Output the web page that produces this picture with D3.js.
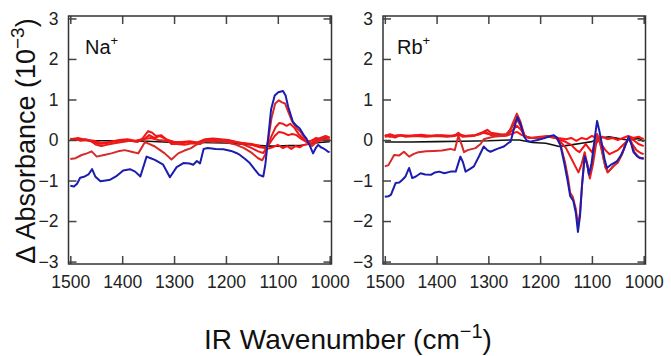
<!DOCTYPE html>
<html><head><meta charset="utf-8">
<script src="https://cdn.jsdelivr.net/npm/d3@7/dist/d3.min.js"></script>
<style>html,body{margin:0;padding:0;background:#fff;}svg{display:block;font-family:"Liberation Sans",Arial,sans-serif;}</style>
</head><body>
<script>
// ---------- data ----------
const xTicks = [1500, 1400, 1300, 1200, 1100, 1000];
const yTicks = [3, 2, 1, 0, -1, -2, -3];
const panelLabels = ["Na", "Rb"];
const xTitle = "IR Wavenumber (cm";
const yTitle = "\u0394 Absorbance (10";

const naBlack = [[1500,0],[1450,-0.02],[1400,-0.02],[1350,-0.03],[1300,-0.06],[1250,-0.06],[1200,-0.07],[1180,-0.09],[1160,-0.11],[1140,-0.13],[1120,-0.15],[1100,-0.15],[1080,-0.14],[1060,-0.14],[1040,-0.1],[1020,-0.06],[1000,-0.04]];
const naBlue = [[1500,-1.13],[1493,-1.15],[1487,-1.08],[1481,-0.93],[1472,-0.9],[1465,-0.85],[1458,-0.72],[1452,-0.9],[1442,-1.02],[1432,-1.0],[1423,-0.98],[1412,-0.9],[1398,-0.75],[1385,-0.72],[1375,-0.78],[1365,-0.9],[1353,-0.41],[1345,-0.45],[1337,-0.49],[1321,-0.61],[1308,-0.92],[1295,-0.67],[1282,-0.57],[1270,-0.58],[1263,-0.61],[1256,-0.52],[1250,-0.58],[1243,-0.22],[1235,-0.2],[1220,-0.22],[1205,-0.23],[1190,-0.27],[1180,-0.32],[1173,-0.37],[1163,-0.47],[1154,-0.57],[1145,-0.72],[1136,-0.86],[1128,-0.9],[1124,-0.6],[1119,0.0],[1113,0.75],[1106,1.1],[1099,1.18],[1090,1.21],[1085,1.1],[1080,0.82],[1071,0.45],[1064,0.35],[1058,0.29],[1050,0.12],[1045,0.04],[1038,-0.15],[1032,-0.33],[1026,-0.18],[1022,-0.12],[1017,-0.18],[1013,-0.2],[1008,-0.24],[1003,-0.29],[1000,-0.3]];
const naRed1 = [[1500,-0.47],[1490,-0.45],[1478,-0.37],[1468,-0.33],[1459,-0.28],[1449,-0.41],[1435,-0.37],[1421,-0.33],[1408,-0.28],[1395,-0.25],[1382,-0.29],[1369,-0.33],[1356,-0.05],[1347,-0.1],[1337,-0.16],[1327,-0.25],[1318,-0.33],[1305,-0.48],[1292,-0.33],[1280,-0.26],[1267,-0.2],[1258,-0.12],[1250,-0.08],[1240,-0.03],[1225,-0.05],[1210,-0.04],[1195,-0.07],[1180,-0.12],[1165,-0.2],[1150,-0.32],[1138,-0.45],[1130,-0.5],[1124,-0.35],[1118,0.05],[1112,0.55],[1105,0.9],[1098,0.98],[1092,0.93],[1086,0.9],[1080,0.7],[1072,0.45],[1064,0.3],[1056,0.2],[1048,0.05],[1040,-0.05],[1034,-0.15],[1028,-0.08],[1020,-0.02],[1010,0.0],[1000,-0.02]];
const naRed2 = [[1500,0.0],[1490,0.02],[1480,-0.02],[1470,0.0],[1460,-0.03],[1450,-0.12],[1440,-0.15],[1430,-0.12],[1415,-0.08],[1400,-0.05],[1385,-0.02],[1370,-0.05],[1360,0.05],[1350,0.22],[1342,0.18],[1335,0.1],[1325,0.12],[1318,0.05],[1305,-0.1],[1295,-0.1],[1280,-0.12],[1265,-0.08],[1250,-0.1],[1240,-0.02],[1225,0.02],[1210,0.0],[1195,-0.02],[1180,-0.05],[1165,-0.12],[1150,-0.2],[1138,-0.28],[1128,-0.32],[1120,-0.15],[1112,0.1],[1104,0.32],[1097,0.42],[1090,0.4],[1083,0.35],[1076,0.4],[1068,0.3],[1060,0.15],[1052,0.05],[1044,-0.05],[1036,-0.1],[1028,0.0],[1018,0.05],[1008,0.1],[1000,0.05]];
const naRed3 = [[1500,0.03],[1485,0.0],[1470,0.02],[1455,-0.05],[1445,-0.1],[1430,-0.08],[1410,-0.02],[1390,0.0],[1375,-0.03],[1360,0.0],[1348,0.12],[1338,0.05],[1328,0.1],[1316,0.02],[1300,-0.05],[1285,-0.05],[1270,-0.03],[1255,-0.06],[1240,0.02],[1225,0.04],[1210,0.02],[1195,0.0],[1180,-0.05],[1165,-0.08],[1150,-0.12],[1135,-0.18],[1122,-0.2],[1114,-0.05],[1106,0.1],[1098,0.2],[1090,0.18],[1080,0.12],[1072,0.15],[1064,0.12],[1054,0.02],[1044,-0.05],[1036,-0.02],[1026,0.05],[1015,0.0],[1005,0.08],[1000,0.05]];
const naRed4 = [[1500,0.02],[1485,0.05],[1470,0.0],[1455,-0.02],[1440,-0.08],[1425,-0.05],[1405,0.0],[1390,0.02],[1375,-0.02],[1360,0.02],[1345,0.05],[1330,0.0],[1315,-0.02],[1300,-0.05],[1285,-0.08],[1270,-0.05],[1255,-0.08],[1240,0.0],[1225,0.0],[1210,-0.02],[1195,-0.05],[1180,-0.06],[1165,-0.08],[1150,-0.1],[1135,-0.15],[1120,-0.22],[1110,-0.18],[1100,-0.12],[1090,-0.2],[1082,-0.15],[1074,-0.22],[1066,-0.15],[1058,-0.18],[1050,-0.12],[1040,-0.1],[1030,-0.05],[1020,0.0],[1010,0.05],[1000,0.0]];

const rbBlack = [[1500,-0.05],[1450,-0.05],[1400,-0.04],[1350,-0.03],[1300,-0.02],[1260,0.0],[1240,0.0],[1215,-0.06],[1189,-0.08],[1163,-0.16],[1140,-0.12],[1120,-0.08],[1100,-0.04],[1085,0.05],[1067,0.08],[1050,0.04],[1030,0.0],[1009,0.04],[1000,-0.04]];
const rbBlue = [[1500,-1.4],[1493,-1.39],[1488,-1.35],[1479,-1.06],[1472,-1.05],[1466,-0.98],[1460,-0.9],[1453,-0.69],[1447,-0.94],[1440,-0.9],[1431,-0.82],[1422,-0.85],[1411,-0.86],[1403,-0.8],[1395,-0.78],[1385,-0.82],[1373,-0.78],[1363,-0.78],[1354,-0.41],[1349,-0.55],[1344,-0.78],[1336,-0.72],[1328,-0.65],[1318,-0.4],[1309,-0.16],[1302,-0.25],[1296,-0.29],[1283,-0.22],[1270,-0.16],[1262,-0.08],[1257,-0.04],[1250,0.3],[1244,0.57],[1238,0.4],[1231,0.08],[1225,-0.02],[1219,-0.04],[1205,0.0],[1193,0.04],[1180,0.1],[1174,0.12],[1167,0.05],[1161,-0.12],[1153,-0.6],[1147,-1.0],[1142,-1.38],[1136,-1.5],[1131,-1.8],[1127,-2.27],[1123,-1.88],[1119,-1.1],[1114,-0.4],[1109,-0.6],[1106,-0.85],[1101,-0.6],[1095,0.0],[1090,0.47],[1086,0.25],[1081,-0.08],[1076,-0.45],[1071,-0.69],[1062,-0.6],[1052,-0.53],[1045,-0.4],[1039,-0.25],[1033,-0.05],[1029,0.08],[1024,-0.1],[1020,-0.29],[1013,-0.4],[1007,-0.45],[1000,-0.45]];
const rbRed1 = [[1500,-0.65],[1493,-0.62],[1482,-0.37],[1472,-0.38],[1463,-0.29],[1453,-0.41],[1445,-0.35],[1435,-0.3],[1420,-0.28],[1405,-0.27],[1390,-0.26],[1373,-0.22],[1365,-0.25],[1358,0.1],[1352,-0.1],[1347,-0.3],[1340,-0.25],[1325,-0.2],[1315,-0.1],[1309,0.02],[1300,0.05],[1290,0.08],[1275,0.1],[1262,0.12],[1255,0.35],[1245,0.65],[1238,0.45],[1230,0.1],[1220,0.05],[1205,0.05],[1190,0.08],[1178,0.1],[1168,0.05],[1160,-0.15],[1152,-0.55],[1146,-0.95],[1142,-1.3],[1137,-1.4],[1131,-1.7],[1127,-2.1],[1123,-1.8],[1119,-1.1],[1114,-0.4],[1109,-0.62],[1105,-0.85],[1100,-0.6],[1094,-0.1],[1090,0.15],[1085,0.0],[1080,-0.3],[1074,-0.68],[1068,-0.78],[1060,-0.66],[1050,-0.56],[1042,-0.36],[1035,-0.1],[1029,0.05],[1023,-0.1],[1018,-0.3],[1010,-0.42],[1000,-0.47]];
const rbRed2 = [[1500,0.08],[1490,0.1],[1480,0.06],[1470,0.12],[1460,0.08],[1440,0.1],[1420,0.08],[1400,0.1],[1380,0.08],[1365,0.1],[1358,0.18],[1350,0.08],[1330,0.1],[1315,0.15],[1305,0.2],[1295,0.12],[1280,0.12],[1265,0.15],[1255,0.3],[1245,0.52],[1238,0.35],[1230,0.1],[1220,0.05],[1200,0.06],[1185,0.08],[1170,0.05],[1160,-0.05],[1150,-0.2],[1140,-0.45],[1132,-0.65],[1126,-0.8],[1120,-0.6],[1114,-0.3],[1109,-0.6],[1104,-0.95],[1098,-0.6],[1092,-0.1],[1087,0.05],[1082,-0.2],[1076,-0.55],[1070,-0.8],[1062,-0.7],[1052,-0.55],[1042,-0.35],[1035,-0.1],[1028,0.05],[1022,-0.1],[1014,-0.25],[1006,-0.32],[1000,-0.35]];
const rbRed3 = [[1500,0.12],[1490,0.08],[1475,0.12],[1460,0.1],[1440,0.12],[1420,0.1],[1400,0.12],[1380,0.1],[1360,0.12],[1345,0.1],[1325,0.12],[1310,0.2],[1302,0.25],[1295,0.18],[1280,0.15],[1265,0.12],[1255,0.22],[1245,0.35],[1237,0.25],[1228,0.08],[1215,0.05],[1200,0.08],[1185,0.1],[1170,0.05],[1160,0.0],[1150,-0.05],[1140,-0.12],[1130,-0.25],[1124,-0.3],[1118,-0.2],[1112,-0.1],[1106,-0.2],[1100,-0.3],[1094,-0.1],[1088,0.0],[1082,-0.1],[1074,-0.25],[1066,-0.35],[1058,-0.3],[1050,-0.25],[1042,-0.15],[1034,-0.05],[1028,0.05],[1020,0.0],[1010,-0.1],[1000,-0.15]];
const rbRed4 = [[1500,0.1],[1490,0.14],[1480,0.1],[1465,0.12],[1450,0.1],[1430,0.13],[1410,0.1],[1390,0.12],[1370,0.1],[1358,0.15],[1345,0.1],[1325,0.12],[1310,0.18],[1300,0.15],[1285,0.12],[1270,0.1],[1255,0.15],[1245,0.2],[1235,0.12],[1220,0.05],[1205,0.06],[1190,0.08],[1175,0.1],[1165,0.05],[1150,0.02],[1140,0.05],[1130,-0.02],[1120,0.05],[1110,0.02],[1100,0.1],[1090,0.05],[1080,0.08],[1070,0.02],[1060,0.05],[1050,0.0],[1040,0.05],[1030,0.1],[1020,0.05],[1010,0.08],[1000,0.02]];

const seriesColors = ["#111111", "#ff1414", "#f41212", "#e81c1c", "#d82828", "#1c1cb0"];
// ---------- drawing ----------
const W = 671, H = 356;
const svg = d3.select("body").append("svg").attr("width", W).attr("height", H);

const panels = [
  {label: panelLabels[0], left: 68.5, right: 331.5, lx: 85,
   series: [naBlack, naRed4, naRed3, naRed2, naRed1, naBlue]},
  {label: panelLabels[1], left: 383, right: 645.5, lx: 397,
   series: [rbBlack, rbRed4, rbRed3, rbRed2, rbRed1, rbBlue]}
];
const plotTop = 16, plotBottom = 264;
const y = d3.scaleLinear().domain([-3.06, 3.06]).range([plotBottom, plotTop]);

panels.forEach(p => {
  const x = d3.scaleLinear().domain([1503.5, 996.5]).range([p.left, p.right]);
  const g = svg.append("g");
  const clipId = "clip" + p.label;
  svg.append("clipPath").attr("id", clipId).append("rect")
    .attr("x", p.left).attr("y", plotTop).attr("width", p.right - p.left).attr("height", plotBottom - plotTop);

  const line = d3.line().x(d => x(d[0])).y(d => y(d[1]));
  const lg = g.append("g").attr("clip-path", `url(#${clipId})`);
  p.series.forEach((s, i) => {
    lg.append("path").attr("d", line(s)).attr("fill", "none")
      .attr("stroke", seriesColors[i]).attr("stroke-width", i === 0 ? 1.6 : 2)
      .attr("stroke-linejoin", "round");
  });

  const tickCol = "#444";
  const ax = [
    d3.axisLeft(y).tickValues(yTicks).tickSize(-8).tickPadding(10).tickFormat(d3.format("d")).tickSizeOuter(0),
    d3.axisRight(y).tickValues(yTicks).tickSize(-8).tickFormat("").tickSizeOuter(0),
    d3.axisBottom(x).tickValues(xTicks).tickSize(-8).tickPadding(12).tickFormat(d3.format("d")).tickSizeOuter(0),
    d3.axisTop(x).tickValues(xTicks).tickSize(-8).tickFormat("").tickSizeOuter(0)
  ];
  const pos = [[p.left, 0], [p.right, 0], [0, plotBottom], [0, plotTop]];
  ax.forEach((a, i) => {
    const ag = g.append("g").attr("transform", `translate(${pos[i][0]},${pos[i][1]})`).call(a);
    ag.select(".domain").remove();
    ag.selectAll("line").attr("stroke", tickCol).attr("stroke-width", 1.5);
    ag.selectAll("text").attr("fill", "#222").style("font-size", "17.5px")
      .style("font-family", "Liberation Sans, Arial, sans-serif");
  });

  g.append("rect").attr("x", p.left).attr("y", plotTop)
    .attr("width", p.right - p.left).attr("height", plotBottom - plotTop)
    .attr("fill", "none").attr("stroke", "#333").attr("stroke-width", 1.5);

  const t = g.append("text").attr("x", p.lx).attr("y", 54)
    .attr("fill", "#111").style("font-size", "20px");
  t.append("tspan").text(p.label);
  t.append("tspan").attr("dy", -9).style("font-size", "13px").text("+");
});

// y title
const yt = svg.append("text").attr("transform", "translate(35,141) rotate(-90)")
  .attr("text-anchor", "middle").attr("fill", "#111").style("font-size", "27px");
yt.append("tspan").text(yTitle);
yt.append("tspan").attr("dy", -11).style("font-size", "19px").text("\u22123");
yt.append("tspan").attr("dy", 11).text(")");

// x title
const xt = svg.append("text").attr("x", 348).attr("y", 349)
  .attr("text-anchor", "middle").attr("fill", "#111").style("font-size", "28px");
xt.append("tspan").text(xTitle);
xt.append("tspan").attr("dy", -11).style("font-size", "20px").text("\u22121");
xt.append("tspan").attr("dy", 11).text(")");
</script>
</body></html>
